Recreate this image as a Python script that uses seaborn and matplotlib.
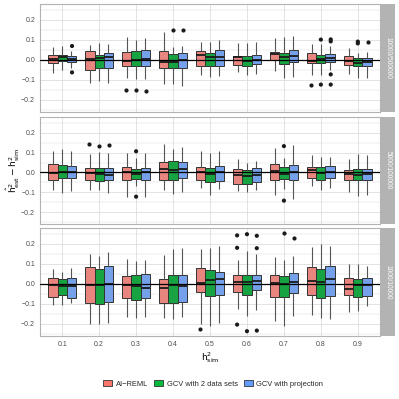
import numpy as np
import pandas as pd
import matplotlib
matplotlib.use("Agg")
import matplotlib.pyplot as plt
from matplotlib.patches import Patch
import seaborn as sns

# Data: five-number summaries (whisker low, q1, median, q3, whisker high)
# one list per panel and method

h2_sim = ["0.1", "0.2", "0.3", "0.4", "0.5", "0.6", "0.7", "0.8", "0.9"]
methods = ["AI\u2212REML", "GCV with 2 data sets", "GCV with projection"]
panels = ["10000/500000", "5000/100000", "1000/10000"]
colors = ["#F8766D", "#00BA38", "#619CFF"]

top_reml = [(-0.065, -0.017, 0.005, 0.027, 0.067), (-0.113, -0.048, 0.003, 0.047, 0.077),
            (-0.090, -0.028, -0.007, 0.038, 0.113), (-0.122, -0.042, -0.010, 0.043, 0.140),
            (-0.073, -0.028, 0.025, 0.047, 0.092), (-0.062, -0.027, 0.013, 0.022, 0.085),
            (-0.053, 0.000, 0.030, 0.042, 0.108), (-0.073, -0.015, -0.007, 0.033, 0.082),
            (-0.072, -0.027, -0.003, 0.022, 0.060)]
top_gcv2 = [(-0.048, -0.007, 0.013, 0.027, 0.068), (-0.107, -0.040, 0.008, 0.027, 0.083),
            (-0.095, -0.030, 0.000, 0.047, 0.102), (-0.120, -0.040, -0.008, 0.028, 0.067),
            (-0.083, -0.032, 0.013, 0.033, 0.090), (-0.077, -0.030, -0.007, 0.018, 0.083),
            (-0.090, -0.018, 0.013, 0.033, 0.115), (-0.075, -0.017, 0.005, 0.023, 0.080),
            (-0.088, -0.028, -0.013, 0.008, 0.035)]
top_proj = [(-0.040, -0.012, 0.005, 0.018, 0.045), (-0.113, -0.040, 0.013, 0.037, 0.078),
            (-0.093, -0.028, 0.003, 0.048, 0.110), (-0.132, -0.040, -0.002, 0.033, 0.070),
            (-0.082, -0.028, 0.013, 0.048, 0.100), (-0.070, -0.022, 0.000, 0.027, 0.088),
            (-0.083, -0.012, 0.022, 0.050, 0.118), (-0.050, -0.008, 0.010, 0.028, 0.070),
            (-0.090, -0.030, -0.010, 0.010, 0.038)]

mid_reml = [(-0.090, -0.037, -0.002, 0.043, 0.107), (-0.087, -0.040, -0.005, 0.022, 0.092),
            (-0.125, -0.037, 0.002, 0.028, 0.097), (-0.090, -0.037, 0.018, 0.055, 0.143),
            (-0.078, -0.037, 0.002, 0.028, 0.110), (-0.095, -0.060, -0.015, 0.018, 0.070),
            (-0.115, -0.037, 0.005, 0.042, 0.125), (-0.068, -0.028, 0.013, 0.027, 0.087),
            (-0.098, -0.040, -0.008, 0.013, 0.068)]
mid_gcv2 = [(-0.102, -0.030, 0.002, 0.037, 0.118), (-0.087, -0.045, -0.007, 0.022, 0.105),
            (-0.067, -0.032, -0.007, 0.020, 0.072), (-0.107, -0.037, 0.010, 0.057, 0.120),
            (-0.115, -0.048, -0.007, 0.023, 0.097), (-0.100, -0.058, -0.020, 0.013, 0.050),
            (-0.083, -0.035, -0.008, 0.028, 0.075), (-0.090, -0.037, -0.003, 0.028, 0.080),
            (-0.117, -0.040, -0.013, 0.020, 0.092)]
mid_proj = [(-0.092, -0.030, 0.002, 0.033, 0.110), (-0.103, -0.037, -0.012, 0.023, 0.098),
            (-0.122, -0.040, 0.002, 0.023, 0.098), (-0.098, -0.030, 0.018, 0.055, 0.128),
            (-0.085, -0.042, 0.002, 0.033, 0.110), (-0.090, -0.050, -0.015, 0.023, 0.060),
            (-0.132, -0.037, 0.000, 0.037, 0.138), (-0.080, -0.030, 0.000, 0.033, 0.078),
            (-0.113, -0.037, -0.008, 0.020, 0.087)]

bot_reml = [(-0.103, -0.066, -0.004, 0.028, 0.074), (-0.200, -0.094, -0.006, 0.084, 0.151),
            (-0.164, -0.069, -0.006, 0.039, 0.124), (-0.171, -0.093, -0.018, 0.023, 0.146),
            (-0.200, -0.039, 0.004, 0.079, 0.174), (-0.124, -0.041, 0.008, 0.044, 0.119),
            (-0.186, -0.063, 0.003, 0.044, 0.133), (-0.154, -0.056, 0.013, 0.084, 0.183),
            (-0.138, -0.054, -0.024, 0.031, 0.098)]
bot_gcv2 = [(-0.103, -0.054, -0.008, 0.024, 0.061), (-0.200, -0.099, -0.004, 0.076, 0.139),
            (-0.172, -0.078, -0.009, 0.044, 0.116), (-0.176, -0.093, -0.006, 0.046, 0.176),
            (-0.209, -0.059, 0.021, 0.069, 0.181), (-0.161, -0.053, 0.008, 0.043, 0.164),
            (-0.208, -0.066, -0.001, 0.039, 0.119), (-0.168, -0.071, 0.008, 0.076, 0.199),
            (-0.134, -0.066, -0.006, 0.024, 0.098)]
bot_proj = [(-0.093, -0.068, -0.011, 0.028, 0.078), (-0.194, -0.091, -0.002, 0.088, 0.161),
            (-0.164, -0.071, -0.018, 0.048, 0.119), (-0.164, -0.091, -0.011, 0.044, 0.179),
            (-0.193, -0.056, 0.024, 0.059, 0.189), (-0.131, -0.029, 0.014, 0.046, 0.149),
            (-0.161, -0.046, 0.009, 0.056, 0.139), (-0.173, -0.061, 0.023, 0.088, 0.189),
            (-0.111, -0.061, -0.004, 0.028, 0.089)]

# outliers: (h2, method index, value)
top_out = [("0.1", 2, 0.070), ("0.1", 2, -0.062), ("0.3", 0, -0.150), ("0.3", 1, -0.150),
           ("0.3", 2, -0.153), ("0.4", 1, 0.152), ("0.4", 2, 0.152), ("0.8", 0, -0.123),
           ("0.8", 1, 0.102), ("0.8", 1, -0.123), ("0.8", 2, 0.103), ("0.8", 2, 0.093),
           ("0.8", 2, -0.072), ("0.8", 2, -0.123), ("0.9", 1, 0.092), ("0.9", 1, 0.083),
           ("0.9", 2, 0.090)]
mid_out = [("0.2", 0, 0.143), ("0.2", 1, 0.133), ("0.2", 2, 0.140), ("0.3", 1, 0.107),
           ("0.3", 1, -0.122), ("0.7", 1, 0.133), ("0.7", 1, -0.142)]
bot_out = [("0.5", 0, -0.224), ("0.6", 0, 0.243), ("0.6", 0, 0.181), ("0.6", 0, -0.203),
           ("0.6", 1, 0.249), ("0.6", 1, -0.236), ("0.6", 2, 0.241), ("0.6", 2, 0.179),
           ("0.6", 2, -0.233), ("0.7", 1, 0.256), ("0.7", 2, 0.231)]

panel_boxes = [(top_reml, top_gcv2, top_proj), (mid_reml, mid_gcv2, mid_proj),
               (bot_reml, bot_gcv2, bot_proj)]
panel_outliers = [top_out, mid_out, bot_out]


def box_frame(series):
    rows = []
    for m, stats in zip(methods, series):
        for h, five in zip(h2_sim, stats):
            for v in five:
                rows.append({"h2": h, "method": m, "value": v})
    return pd.DataFrame(rows)


def outlier_frame(outs):
    return pd.DataFrame([{"h2": h, "method": methods[i], "value": v} for h, i, v in outs])


sns.set_theme(style="white")
plt.rcParams["font.family"] = ["Liberation Sans", "DejaVu Sans"]

W = H = 399
fig = plt.figure(figsize=(W / 100, H / 100), dpi=100)
fig.patch.set_facecolor("white")

panel_px = [(4, 112), (117, 224), (228, 336)]
left_px, right_px = 40, 380
grid_col = "#DEDEDE"
border_col = "#B3B3B3"
text_col = "#4D4D4D"

for k, (y0, y1) in enumerate(panel_px):
    ax = fig.add_axes([left_px / W, 1 - y1 / H, (right_px - left_px) / W, (y1 - y0) / H])
    df = box_frame(panel_boxes[k])
    sns.boxplot(data=df, x="h2", y="value", hue="method", order=h2_sim, hue_order=methods,
                palette=colors, whis=(0, 100), width=0.75, gap=0, fliersize=0,
                linecolor="#333333", linewidth=0.7, legend=False, ax=ax,
                medianprops={"color": "#1A1A1A", "linewidth": 1.3},
                whiskerprops={"color": "#555555", "linewidth": 0.8},
                capprops={"linewidth": 0})
    od = outlier_frame(panel_outliers[k])
    sns.stripplot(data=od, x="h2", y="value", hue="method", order=h2_sim, hue_order=methods,
                  palette=["#1A1A1A"] * 3, dodge=True, jitter=False, size=3,
                  linewidth=0, legend=False, ax=ax)
    ax.axhline(0, color="black", lw=0.9, zorder=10)

    ax.set_xlim(-0.6, 8.6)
    ax.set_ylim(-0.26, 0.28)
    ax.set_yticks([-0.2, -0.1, 0.0, 0.1, 0.2])
    ax.set_yticks([-0.25, -0.15, -0.05, 0.05, 0.15, 0.25], minor=True)
    ax.set_yticklabels(["\u22120.2", "\u22120.1", "0.0", "0.1", "0.2"])
    ax.grid(True, which="major", color=grid_col, lw=0.6)
    ax.grid(True, which="minor", axis="y", color=grid_col, lw=0.35)
    ax.set_axisbelow(True)
    ax.set_xlabel("")
    ax.set_ylabel("")
    ax.tick_params(axis="both", which="major", length=2, width=0.5, color=border_col,
                   labelsize=5, labelcolor=text_col, pad=1.5)
    ax.tick_params(axis="both", which="minor", length=0)
    if k < 2:
        ax.tick_params(axis="x", labelbottom=False, length=0)
    for s in ax.spines.values():
        s.set_color(border_col)
        s.set_linewidth(0.8)

    # facet strip
    sax = fig.add_axes([(right_px + 1) / W, 1 - y1 / H, 14 / W, (y1 - y0) / H])
    sax.set_facecolor(border_col)
    sax.set_xticks([])
    sax.set_yticks([])
    for s in sax.spines.values():
        s.set_visible(False)
    sax.text(0.5, 0.5, panels[k], rotation=-90, ha="center", va="center",
             color="white", fontsize=4.8, transform=sax.transAxes)

fig.text(13 / W, 1 - 170 / H, r"$\hat{\mathrm{h}}^2_{\mathrm{est}} - \mathrm{h}^2_{\mathrm{sim}}$",
         rotation=90, ha="center", va="center", fontsize=6.5, color="black")
fig.text(210 / W, 1 - 358 / H, r"$\mathrm{h}^2_{\mathrm{sim}}$",
         ha="center", va="center", fontsize=6.5, color="black")

handles = [Patch(facecolor=c, edgecolor="#333333", linewidth=0.6) for c in colors]
fig.legend(handles, methods, loc="center", bbox_to_anchor=(213 / W, 1 - 384 / H), ncol=3,
           frameon=False, fontsize=5.4, handlelength=1.2, handleheight=0.9,
           handletextpad=0.5, columnspacing=0.8)

fig.savefig("out.png", dpi=100, facecolor="white")
